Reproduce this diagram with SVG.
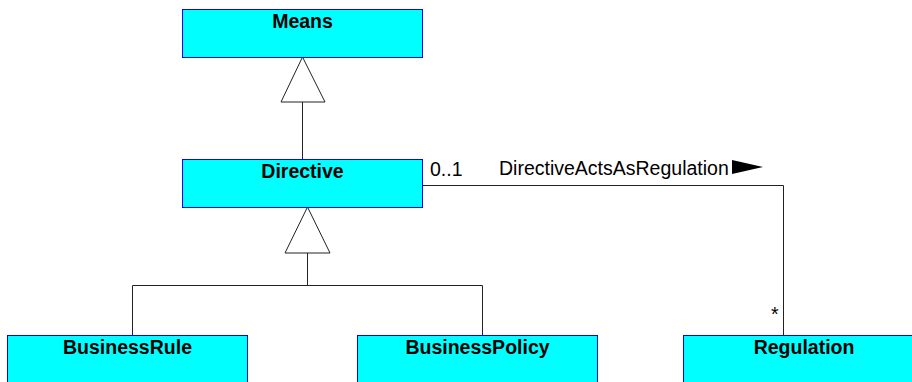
<svg xmlns="http://www.w3.org/2000/svg" width="912" height="382" viewBox="0 0 912 382">
<style>
.box{fill:#00ffff;stroke:#0000ff;stroke-width:1}
.lbl{font-family:"Liberation Sans",Arial,sans-serif;font-weight:bold;font-size:19.5px;text-anchor:middle;fill:#000}
.t{font-family:"Liberation Sans",Arial,sans-serif;font-size:19.5px;fill:#000}
.ln{fill:none;stroke:#222;stroke-width:1}
.gen{fill:#fff;stroke:#222;stroke-width:1}
</style>
<rect width="912" height="382" fill="#fff"/>
<g id="connectors">
<polyline class="ln" points="302.5,102 302.5,159"/>
<polygon class="gen" points="302.5,57 281,102 325,102"/>
<polyline class="ln" points="307.5,253 307.5,285"/>
<polyline class="ln" points="132.5,335 132.5,285.5 482.5,285.5 482.5,335"/>
<polygon class="gen" points="307.5,207 285,253 330,253"/>
<polyline class="ln" points="422,185.5 783.5,185.5 783.5,335"/>
<text class="t" x="430" y="176">0..1</text>
<text class="t" x="499" y="175">DirectiveActsAsRegulation</text>
<polygon fill="#000" points="732,160 763,167 732,174"/>
<text class="t" x="771" y="321">*</text>
</g>
<g id="Means"><rect class="box" x="182.5" y="9.5" width="240" height="48"/><text class="lbl" x="302.5" y="28">Means</text></g>
<g id="Directive"><rect class="box" x="182.5" y="159.5" width="240" height="48"/><text class="lbl" x="302.5" y="178">Directive</text></g>
<g id="BusinessRule"><rect class="box" x="7.5" y="335.5" width="240" height="48"/><text class="lbl" x="127.5" y="354">BusinessRule</text></g>
<g id="BusinessPolicy"><rect class="box" x="357.5" y="335.5" width="240" height="48"/><text class="lbl" x="477.5" y="354">BusinessPolicy</text></g>
<g id="Regulation"><rect class="box" x="683.5" y="335.5" width="240" height="48"/><text class="lbl" x="804" y="354">Regulation</text></g>
</svg>
